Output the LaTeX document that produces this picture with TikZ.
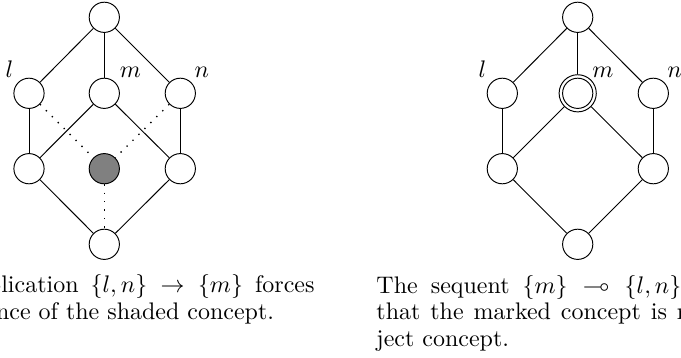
\documentclass[tikz,border=0pt]{standalone}
\usepackage{amssymb}
\begin{document}
\begin{tikzpicture}[x=0.417pt,y=-0.417pt,
  cnode/.style={circle,draw,minimum size=12.6pt,inner sep=0pt,fill=white,line width=0.4pt},
  shnode/.style={cnode,fill=gray},
  ring/.style={circle,draw,minimum size=15.5pt,inner sep=0pt,fill=white,line width=0.4pt},
  lab/.style={anchor=base,inner sep=0pt},
  edge/.style={line width=0.4pt},
  dotedge/.style={line width=0.55pt,dash pattern=on 0.55pt off 2.95pt},
  capw/.style={anchor=base west,inner sep=0pt},
  cape/.style={anchor=base east,inner sep=0pt}]
\useasboundingbox (0,0) rectangle (681,358);
\clip (0,0) rectangle (681,358);
% left lattice
\node[cnode] (at) at (104.3,17.3) {};
\node[cnode] (al) at (29,93.3) {};
\node[cnode] (am) at (104.3,93.3) {};
\node[cnode] (an) at (180.3,93.3) {};
\node[cnode] (ab1) at (29,168.7) {};
\node[shnode] (as) at (104.3,168.7) {};
\node[cnode] (ab3) at (180.3,168.7) {};
\node[cnode] (abot) at (104.3,244.3) {};
\draw[edge] (at) -- (al);
\draw[edge] (at) -- (am);
\draw[edge] (at) -- (an);
\draw[edge] (al) -- (ab1);
\draw[edge] (an) -- (ab3);
\draw[edge] (am) -- (ab1);
\draw[edge] (am) -- (ab3);
\draw[edge] (ab1) -- (abot);
\draw[edge] (ab3) -- (abot);
\draw[dotedge] (al) -- (as);
\draw[dotedge] (an) -- (as);
\draw[dotedge] (as) -- (abot);
\node[lab] (all) at (9.5,78) {$l$};
\node[lab] (aml) at (130.5,78) {$m$};
\node[lab] (anl) at (201.7,78) {$n$};
% right lattice
\node[cnode] (bt) at (577.7,17.3) {};
\node[cnode] (bl) at (502.3,93.3) {};
\node[ring] (bm) at (577.7,93.3) {};
\node[cnode] (bmi) at (577.7,93.3) {};
\node[cnode] (bn) at (653.3,93.3) {};
\node[cnode] (bb1) at (502.3,168.7) {};
\node[cnode] (bb3) at (653.3,168.7) {};
\node[cnode] (bbot) at (577.7,244.3) {};
\draw[edge] (bt) -- (bl);
\draw[edge] (bt) -- (bm);
\draw[edge] (bt) -- (bn);
\draw[edge] (bl) -- (bb1);
\draw[edge] (bn) -- (bb3);
\draw[edge] (bm) -- (bb1);
\draw[edge] (bm) -- (bb3);
\draw[edge] (bb1) -- (bbot);
\draw[edge] (bb3) -- (bbot);
\node[lab] (bll) at (482.5,78) {$l$};
\node[lab] (bml) at (603,78) {$m$};
\node[lab] (bnl) at (674.5,78) {$n$};
% captions
\node[cape] (capL1) at (315,292.7) {\makebox[169.5pt][s]{The implication $\{l,n\}\to\{m\}$ forces}};
\node[cape] (capL2) at (274.5,319.3) {the presence of the shaded concept.};
\node[capw] (capR1) at (376,293) {\makebox[172.5pt][s]{The sequent $\{m\}\multimap\{l,n\}$ expresses}};
\node[capw] (capR2) at (376,319.6) {\makebox[172.5pt][s]{that the marked concept is not an ob-}};
\node[capw] (capR3) at (376,346.2) {ject concept.};
\end{tikzpicture}
\end{document}
